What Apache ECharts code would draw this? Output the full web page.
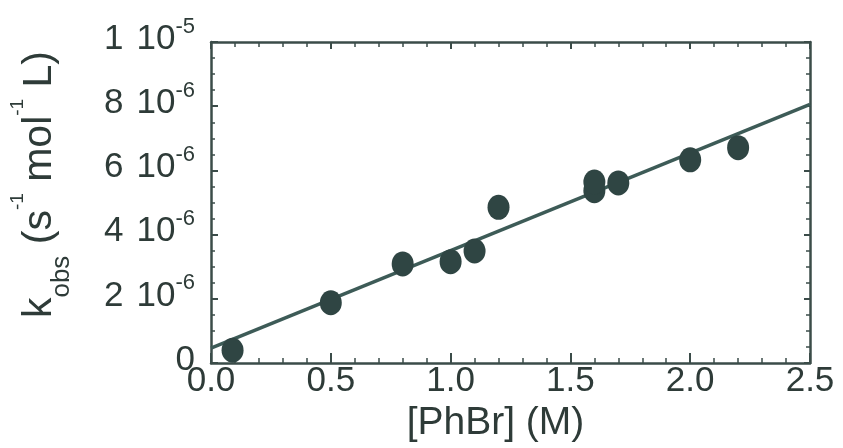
<!DOCTYPE html>
<html>
<head>
<meta charset="utf-8">
<script src="https://cdn.jsdelivr.net/npm/echarts@6/dist/echarts.min.js"></script>
<style>
  html, body { margin: 0; padding: 0; background: #fff; }
  #main { width: 843px; height: 448px; }
</style>
</head>
<body>
<div id="main"></div>
<script>
// measured points, [PhBr] in M, k_obs in s^-1 mol^-1 L
var phbr = [0.09, 0.5, 0.8, 1.0, 1.1, 1.2, 1.6, 1.6, 1.7, 2.0, 2.2];
var kobs = [0.40e-6, 1.88e-6, 3.09e-6, 3.16e-6, 3.49e-6, 4.85e-6, 5.37e-6, 5.64e-6, 5.61e-6, 6.33e-6, 6.71e-6];

// linear fit, drawn across the whole x range
var fitX = [0, 2.5];
var fitY = [0.47e-6, 8.06e-6];

// y tick labels: mantissa, power of ten, exponent
var yTickMant = ['0', '2', '4', '6', '8', '1'];
var yTickPow = ['', '10', '10', '10', '10', '10'];
var yTickExp = ['', '-6', '-6', '-6', '-6', '-5'];

var ink = '#2e3b38';
var axisCol = '#3b4c49';
var font = 'Liberation Sans, Arial, Helvetica, sans-serif';

var chart = echarts.init(document.getElementById('main'));

var pts = phbr.map(function (x, i) { return [x, kobs[i]]; });
var fit = fitX.map(function (x, i) { return [x, fitY[i]]; });

function yLabel(value, index) {
    if (!yTickExp[index]) return '{b|' + yTickMant[index] + '}';
    return '{b|' + yTickMant[index] + ' }{g| }{b|' + yTickPow[index] + '}{s|' + yTickExp[index] + '}';
}

var axisLine = { show: true, onZero: false, lineStyle: { color: axisCol, width: 2.5 } };

var option = {
    animation: false,
    backgroundColor: '#fff',
    grid: { left: 206, right: 33, top: 42, bottom: 80 },
    xAxis: [{
        type: 'value',
        min: 0, max: 2.5, interval: 0.5,
        position: 'bottom',
        axisLine: axisLine,
        axisTick: { show: true, inside: true, length: 10, lineStyle: { color: axisCol, width: 2 } },
        minorTick: { show: true, splitNumber: 5, length: 5, lineStyle: { color: axisCol, width: 1.5 } },
        splitLine: { show: false },
        axisLabel: {
            margin: 1, color: ink, fontFamily: font, fontSize: 35, lineHeight: 35,
            formatter: function (v) { return v.toFixed(1); }
        },
        name: '[PhBr] (M)',
        nameLocation: 'middle',
        nameGap: 32,
        nameTextStyle: { color: ink, fontFamily: font, fontSize: 39, lineHeight: 39, padding: [0, 30, 0, 0] }
    }, {
        type: 'value',
        min: 0, max: 2.5, interval: 0.5,
        position: 'top',
        axisLine: axisLine,
        axisTick: { show: true, inside: true, length: 7, lineStyle: { color: axisCol, width: 2 } },
        minorTick: { show: true, splitNumber: 5, length: 5, lineStyle: { color: axisCol, width: 1.5 } },
        splitLine: { show: false },
        axisLabel: { show: false }
    }],
    yAxis: [{
        type: 'value',
        min: 0, max: 1e-5, interval: 2e-6,
        position: 'left',
        axisLine: axisLine,
        axisTick: { show: true, inside: true, length: 7, lineStyle: { color: axisCol, width: 2 } },
        minorTick: { show: true, splitNumber: 4, length: 4, lineStyle: { color: axisCol, width: 1.5 } },
        splitLine: { show: false },
        axisLabel: {
            margin: 16,
            align: 'right',
            padding: [0, 0, 6, 0],
            formatter: yLabel,
            rich: {
                b: { color: ink, fontFamily: font, fontSize: 35, lineHeight: 35, verticalAlign: 'bottom' },
                g: { fontFamily: font, fontSize: 12, lineHeight: 12, verticalAlign: 'bottom' },
                s: { color: ink, fontFamily: font, fontSize: 22, lineHeight: 22, verticalAlign: 'bottom', padding: [0, 0, 19, 0] }
            }
        },
        name: '{m|k}{sub|obs}{m| (s}{sup|-1}{m| mol}{sup|-1}{m| L)}',
        nameLocation: 'middle',
        nameRotate: 90,
        nameGap: 162,
        nameTextStyle: {
            padding: [0, 0, 0, 36],
            rich: {
                m: { color: ink, fontFamily: font, fontSize: 41, lineHeight: 41, verticalAlign: 'top', padding: [11, 0, 0, 0] },
                sub: { color: ink, fontFamily: font, fontSize: 26, lineHeight: 26, verticalAlign: 'top', padding: [41, 0, 0, 0] },
                sup: { color: ink, fontFamily: font, fontSize: 19, lineHeight: 19, verticalAlign: 'top' }
            }
        }
    }, {
        type: 'value',
        min: 0, max: 1e-5, interval: 2e-6,
        position: 'right',
        axisLine: axisLine,
        axisTick: { show: true, inside: true, length: 6, lineStyle: { color: axisCol, width: 2 } },
        minorTick: { show: true, splitNumber: 4, length: 4, lineStyle: { color: axisCol, width: 1.5 } },
        splitLine: { show: false },
        axisLabel: { show: false }
    }],
    series: [{
        type: 'line',
        data: fit,
        showSymbol: false,
        symbol: 'none',
        lineStyle: { color: '#3d5b57', width: 3.5 },
        z: 2
    }, {
        type: 'scatter',
        data: pts,
        symbol: 'circle',
        symbolSize: [22, 25],
        itemStyle: { color: '#2f4543', opacity: 1 },
        z: 3
    }]
};

chart.setOption(option);
</script>
</body>
</html>
